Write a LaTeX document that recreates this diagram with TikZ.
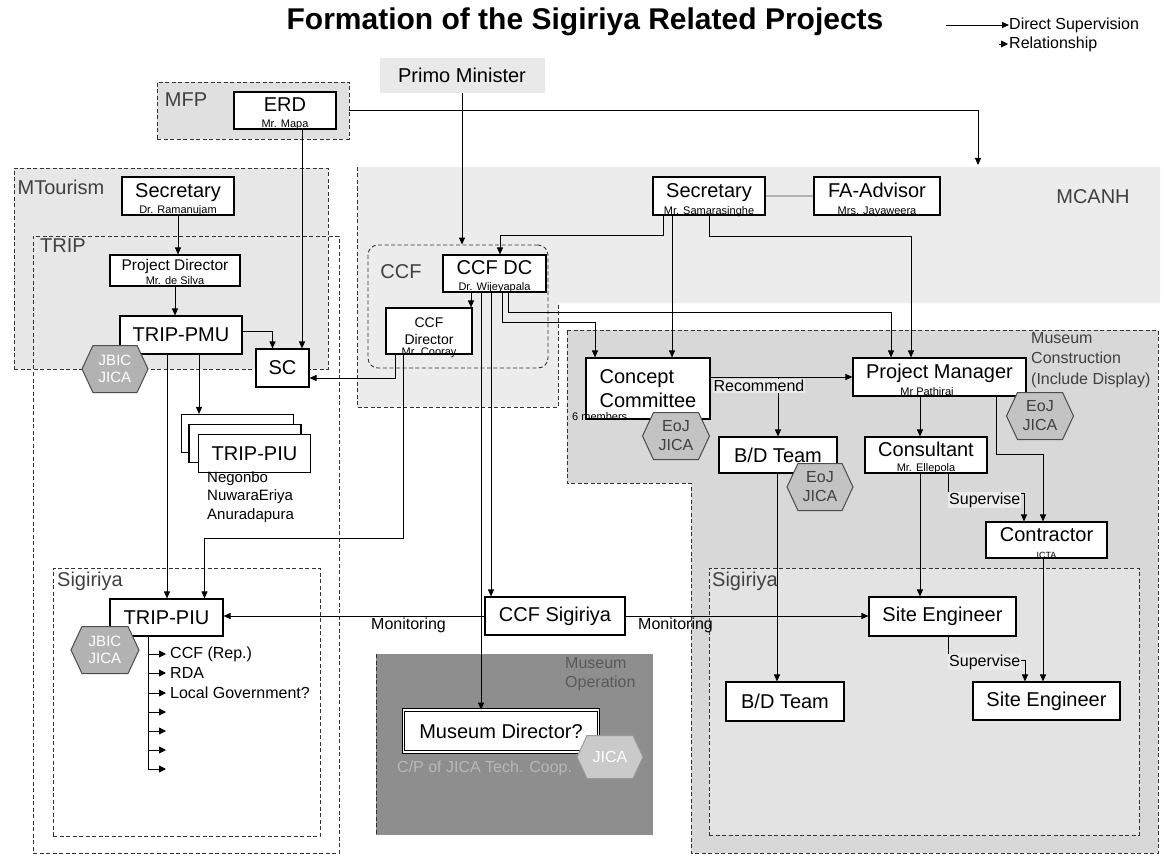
\documentclass[tikz,border=0pt]{standalone}
\usepackage{fontspec}
\setmainfont{Liberation Sans}
\usetikzlibrary{arrows.meta}
\usetikzlibrary{shapes.symbols}
\usetikzlibrary{calc}

\definecolor{mtourfill}{HTML}{E7E7E7}
\definecolor{mcanhfill}{HTML}{ECECEC}
\definecolor{mfpfill}{HTML}{E0E0E0}
\definecolor{constrfill}{HTML}{D8D8D8}
\definecolor{sigfill}{HTML}{E3E3E3}
\definecolor{opfill}{HTML}{8E8E8E}
\definecolor{pmfill}{HTML}{E9E9E9}
\definecolor{hexdark}{HTML}{B2B2B2}
\definecolor{hexmid}{HTML}{C3C3C3}
\definecolor{hexlight}{HTML}{CACACA}

\begin{document}
\begin{tikzpicture}[x=1pt, y=-1pt,
    box/.style 2 args={draw, line width=1.1pt, fill=white, minimum width=#1pt, minimum height=#2pt, inner sep=0pt, align=center, font=\fontsize{20}{24}\selectfont},
    raised/.style={text depth=11pt},
    region/.style={draw=black!80, dash pattern=on 4pt off 2.5pt, line width=0.9pt, inner sep=0pt},
    tag/.style={text=black!75, inner sep=0pt, font=\fontsize{20}{24}\selectfont},
    who/.style={inner sep=0pt, font=\fontsize{11}{13}\selectfont},
    note/.style={inner sep=1pt, font=\fontsize{16}{20}\selectfont},
    hexa/.style 2 args={signal, signal to=east and west, signal pointer angle=130, draw=black!70, line width=1pt, fill=#2, minimum width=#1pt, minimum height=47pt, inner sep=0pt, align=center, font=\fontsize{15}{17}\selectfont},
    sup/.style={-{Triangle[length=7pt,width=6pt]}, line width=0.9pt},
    rel/.style={-{Triangle[length=7pt,width=7pt]}, line width=0.9pt, shorten >=4pt}]
  \useasboundingbox (0,0) rectangle (1165,856);

  \node[font=\fontsize{30}{36}\selectfont\bfseries] (title) at (585,22) {Formation of the Sigiriya Related Projects};
  \node[note, anchor=west, inner sep=0pt] (legsup) at (1009,25) {Direct Supervision};
  \node[note, anchor=west, inner sep=0pt] (legrel) at (1009,44) {Relationship};
  \coordinate (legfrom) at (946,25);
  \coordinate (legtip) at (999,44);
  \draw[sup] (legfrom) -- (legsup.west);
  \draw[rel, shorten >=1pt] (legtip) -- (legrel.west);

  \node[region, fill=mtourfill, minimum width=314pt, minimum height=201pt] (mtour) at (171,268.5) {};
  \node[region, minimum width=306pt, minimum height=617pt] (trip) at (186,544.5) {};
  \node[region, minimum width=267pt, minimum height=268pt] (sigleft) at (186.5,702) {};
  \node[region, fill=mfpfill, minimum width=192pt, minimum height=57pt] (mfp) at (253,110.5) {};
  \fill[mcanhfill] (357,167) -- (1160,167) -- (1160,303) -- (558,303) -- (558,407) -- (357,407) -- cycle;
  \draw[region] (357,167) -- (357,407) -- (558,407) -- (558,303);
  \node[region, rounded corners=10pt, minimum width=180pt, minimum height=123pt] (ccf) at (458,306.5) {};
  \draw[region, fill=constrfill] (567,330) -- (1158,330) -- (1158,853) -- (691,853) -- (691,483) -- (567,483) -- cycle;
  \node[region, fill=sigfill, minimum width=430pt, minimum height=267pt] (sigright) at (924,701.5) {};
  \fill[opfill] (376,654) rectangle (653,835);
  \draw[region] (376,654) -- (376,835);

  \node[tag] (mfplabel) at (186,100) {MFP};
  \node[tag] (mtourlabel) at (61,187) {MTourism};
  \node[tag] (triplabel) at (63,246) {TRIP};
  \node[tag] (ccflabel) at (401,272) {CCF};
  \node[tag] (mcanhlabel) at (1093,197) {MCANH};
  \node[tag, anchor=west] (sigleftlabel) at (57,581) {Sigiriya};
  \node[tag, anchor=west] (sigrightlabel) at (712,581) {Sigiriya};
  \node[tag, anchor=north west, align=left, font=\fontsize{16}{20.5}\selectfont] (constrlabel) at (1031,332) {Museum\\Construction\\(Include Display)};
  \node[tag, anchor=north west, align=left, text=black!65, font=\fontsize{16}{19}\selectfont] (oplabel) at (565,657) {Museum\\Operation};

  \node[fill=pmfill, minimum width=165pt, minimum height=35pt, inner sep=0pt, font=\fontsize{20}{24}\selectfont] (pm) at (462,75.5) {Primo Minister};
  \node[box={102}{37}, raised] (erd) at (285,110.5) {ERD};
  \node[who] (erdwho) at (285,125) {Mr. Mapa};
  \node[box={112}{38}, raised] (sec1) at (178,196) {Secretary};
  \node[who] (sec1who) at (178,211) {Dr. Ramanujam};
  \node[box={130}{31}, raised, font=\fontsize{15.5}{18}\selectfont] (pd) at (175,270.5) {Project Director};
  \node[who] (pdwho) at (175,281) {Mr. de Silva};
  \node[box={122}{38}] (pmu) at (181,335) {TRIP-PMU};
  \node[box={53}{38}] (sc) at (282.5,368) {SC};
  \node[box={112}{38}] (piuback) at (237.5,433.5) {};
  \node[box={112}{38}] (piumid) at (245,443.5) {};
  \node[box={112}{38}] (piufront) at (254.5,453.5) {TRIP-PIU};
  \node[note, anchor=north west, inner sep=0pt, align=left, font=\fontsize{15}{18.5}\selectfont] (piusites) at (207,471) {Negonbo\\NuwaraEriya\\Anuradapura};
  \node[box={113}{37}] (piu) at (166.5,617.5) {TRIP-PIU};

  \node[box={112}{38}, raised] (sec2) at (709,196) {Secretary};
  \node[who] (sec2who) at (709,212) {Mr. Samarasinghe};
  \node[box={126}{38}, raised] (fa) at (877,196) {FA-Advisor};
  \node[who] (fawho) at (877,212) {Mrs. Jayaweera};
  \node[box={103}{37}, raised] (ccfdc) at (494.5,273.5) {CCF DC};
  \node[who] (ccfdcwho) at (494.5,288) {Dr. Wijeyapala};
  \node[box={86}{46}, font=\fontsize{14}{17}\selectfont] (ccfdir) at (429,331) {CCF\\Director};
  \node[who] (ccfdirwho) at (429,353) {Mr. Cooray};
  \node[box={124}{61}, align=left] (cc) at (648,388.5) {Concept\\Committee};
  \node[who, anchor=west] (ccwho) at (572,417) {6 members};
  \node[box={173}{38}, raised] (pmgr) at (939.5,377) {Project Manager};
  \node[who] (pmgrwho) at (927,392) {Mr Pathirai};
  \node[box={118}{36}] (bd1) at (778,455) {B/D Team};
  \node[box={122}{36}, raised] (cons) at (926,455) {Consultant};
  \node[who] (conswho) at (926,469) {Mr. Ellepola};
  \node[box={121}{36}, raised] (contr) at (1046.5,540) {Contractor};
  \node[who, font=\fontsize{9}{10}\selectfont] (contrwho) at (1046.5,555) {ICTA};
  \node[box={147}{39}] (se1) at (942.5,616.5) {Site Engineer};
  \node[box={118}{39}] (bd2) at (785,701.5) {B/D Team};
  \node[box={147}{38}] (se2) at (1046.5,701) {Site Engineer};
  \node[box={140}{38}] (ccfsig) at (555,616) {CCF Sigiriya};
  \node[box={195}{42}, double=white, double distance=1.5pt, line width=0.8pt] (mdir) at (501,731) {Museum Director?};
  \node[note, anchor=west, inner sep=0pt, text=black!28] (cpnote) at (397,768) {C/P of JICA Tech. Coop.};

  \coordinate (mcanhtop) at (978,165);
  \draw[sup] (pm.south) -- (pm.south |- ccf.north);
  \draw[sup] (mfp.east) -| (mcanhtop);
  \draw[sup] ([xshift=17pt]erd.south) -- ([xshift=17pt]erd.south |- sc.north);
  \draw[sup] (sec1.south) -- (sec1.south |- pd.north);
  \draw[sup] (pd.south) -- (pd.south |- pmu.north);
  \draw[sup] ([yshift=4pt]pmu.east) -| ([xshift=-10pt]sc.north);
  \draw[sup] ([xshift=18pt]pmu.south) -- ([xshift=18pt]pmu.south |- piuback.north);
  \draw[sup] ([xshift=-14pt]pmu.south) -- ([xshift=-14pt]pmu.south |- piu.north);
  \draw[sup] ([xshift=-34pt]ccfdir.south) |- ([yshift=-10pt]sc.east);
  \draw[sup] ([xshift=-26pt]ccfdir.south) -- ++(0,184) -| ([xshift=38pt]piu.north);
  \draw[sup] ([xshift=-46pt]sec2.south) -- ++(0,20) -| ([xshift=5.5pt]ccfdc.north);
  \draw[sup] ([xshift=-37pt]sec2.south) -- ([xshift=-37pt]sec2.south |- cc.north);
  \draw[sup] (sec2.south) -- ++(0,21) -| ([xshift=-28.5pt]pmgr.north);
  \draw[line width=1.5pt, black!30] (sec2.east) -- (fa.west);
  \draw[sup] ([xshift=-23.5pt]ccfdc.south) -- ([xshift=-23.5pt]ccfdc.south |- ccfdir.north);
  \draw[sup] ([xshift=-13.5pt]ccfdc.south) -- ([xshift=-13.5pt]ccfdc.south |- mdir.north);
  \draw[sup] ([xshift=-3.5pt]ccfdc.south) -- ([xshift=-3.5pt]ccfdc.south |- ccfsig.north);
  \draw[sup] ([xshift=7.5pt]ccfdc.south) -- ++(0,30) -| ([xshift=-53pt]cc.north);
  \draw[sup] ([xshift=13.5pt]ccfdc.south) -- ++(0,20) -| ([xshift=-48.5pt]pmgr.north);
  \draw[sup] (pmgr.west -| cc.east) -- (pmgr.west);
  \draw[sup] (bd1.north |- pmgr.west) -- (bd1.north);
  \draw[sup] ([xshift=-19.5pt]pmgr.south) -- ([xshift=-19.5pt]pmgr.south |- cons.north);
  \draw[sup] ([xshift=56.5pt]pmgr.south) -- ++(0,58) -| ([xshift=-3.5pt]contr.north);
  \draw[sup] ([xshift=22pt]cons.south) -- ++(0,20) -| ([xshift=-22.5pt]contr.north);
  \draw[sup] ([xshift=-6pt]cons.south) -- ([xshift=-6pt]cons.south |- se1.north);
  \draw[sup] ([xshift=-1pt]bd1.south) -- ([xshift=-1pt]bd1.south |- bd2.north);
  \draw[sup] ([xshift=-3.5pt]contr.south) -- ([xshift=-3.5pt]contr.south |- se2.north);
  \draw[sup] ([xshift=5.5pt]se1.south) -- ++(0,24) -| ([xshift=-21.5pt]se2.north);
  \draw[sup] (ccfsig.west) -- (ccfsig.west -| piu.east);
  \draw[sup] (ccfsig.east) -- (ccfsig.east -| se1.west);

  \coordinate (relroot) at ([xshift=-18.5pt]piu.south);
  \foreach \y/\what [count=\k] in {654/CCF (Rep.),673/RDA,693/Local Government?,712/,731/,750/,769/}{
    \node[note, anchor=west, inner sep=0pt] (relto\k) at (170,\y) {\what};
    \coordinate (relstub\k) at (relroot |- relto\k.west);
    \draw[rel] (relstub\k) -- (relto\k.west);
  }
  \draw[line width=0.9pt] (relroot) -- (relstub7);

  \node[note, fill=black!8] (recomm) at (759,386) {Recommend};
  \node[note, fill=black!8, anchor=west] (supv1) at (948,500) {Supervise};
  \node[note, fill=black!8, anchor=west] (supv2) at (948,662) {Supervise};
  \node[note, anchor=west] (monit1) at (370,625) {Monitoring};
  \node[note, anchor=west] (monit2) at (637,625) {Monitoring};

  \node[hexa={66}{hexdark}, text=white] (jbic1) at (115,369) {JBIC\\JICA};
  \node[hexa={68}{hexdark}, text=white] (jbic2) at (105,650) {JBIC\\JICA};
  \node[hexa={67}{hexmid}, text=black!75, font=\fontsize{16}{19}\selectfont] (eoj1) at (676,436) {EoJ\\JICA};
  \node[hexa={66}{hexmid}, text=black!75, font=\fontsize{16}{19}\selectfont] (eoj2) at (820,487) {EoJ\\JICA};
  \node[hexa={67}{hexmid}, text=black!75, font=\fontsize{16}{19}\selectfont] (eoj3) at (1040,416) {EoJ\\JICA};
  \node[hexa={66}{hexlight}, draw=black!40, minimum height=43pt, text=white, font=\fontsize{16}{19}\selectfont] (jica) at (610,757) {JICA};
\end{tikzpicture}
\end{document}
